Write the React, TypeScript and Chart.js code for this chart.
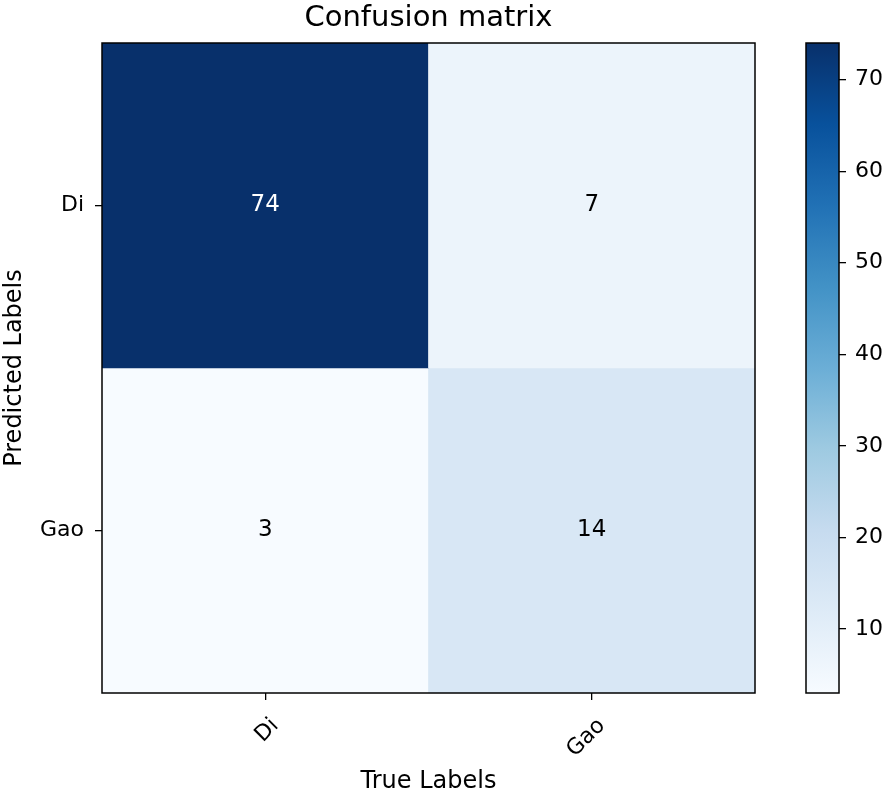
import React, { useEffect, useRef } from "react";
import { Chart, registerables } from "chart.js";

Chart.register(...registerables);

// ---- data ----
const TRUE_LABELS = ["Di", "Gao"];
const PRED_LABELS = ["Di", "Gao"];
const ROW_DI = [74, 7];
const ROW_GAO = [3, 14];
const ROWS = [ROW_DI, ROW_GAO];
const CB_TICKS = [10, 20, 30, 40, 50, 60, 70];
const TITLE = "Confusion matrix";
const X_TITLE = "True Labels";
const Y_TITLE = "Predicted Labels";

const ALL = ROWS.flat();
const VMIN = Math.min(...ALL);
const VMAX = Math.max(...ALL);

// matplotlib "Blues" colormap anchors
const BLUES = [
  "#f7fbff", "#deebf7", "#c6dbef", "#9ecae1", "#6baed6",
  "#4292c6", "#2171b5", "#08519c", "#08306b",
];

function hexToRgb(h: string) {
  return [parseInt(h.slice(1, 3), 16), parseInt(h.slice(3, 5), 16), parseInt(h.slice(5, 7), 16)];
}
function blues(t: number) {
  const tt = Math.max(0, Math.min(1, t));
  const n = BLUES.length - 1;
  const i = Math.min(n - 1, Math.floor(tt * n));
  const f = tt * n - i;
  const a = hexToRgb(BLUES[i]);
  const b = hexToRgb(BLUES[i + 1]);
  const c = a.map((v, k) => Math.round(v + (b[k] - v) * f));
  return `rgb(${c[0]},${c[1]},${c[2]})`;
}
const norm = (v: number) => (v - VMIN) / (VMAX - VMIN);

const FONT = "DejaVu Sans";

const framePlugin = {
  id: "frame",
  afterDraw(chart: any) {
    const { ctx, chartArea: a } = chart;
    ctx.save();
    ctx.strokeStyle = "#000";
    ctx.lineWidth = 1.5;
    ctx.strokeRect(a.left, a.top, a.right - a.left, a.bottom - a.top);
    ctx.restore();
  },
};

const cellTextPlugin = {
  id: "cellText",
  afterDatasetsDraw(chart: any) {
    const { ctx } = chart;
    const thresh = VMAX / 2;
    ctx.save();
    ctx.font = `23px "${FONT}"`;
    ctx.textAlign = "center";
    ctx.textBaseline = "middle";
    chart.data.datasets.forEach((ds: any, r: number) => {
      const meta = chart.getDatasetMeta(r);
      meta.data.forEach((el: any, c: number) => {
        const v = ROWS[r][c];
        const p = el.getCenterPoint();
        ctx.fillStyle = v > thresh ? "#ffffff" : "#000000";
        ctx.fillText(String(v), p.x, p.y);
      });
    });
    ctx.restore();
  },
};

export default function App() {
  const mainRef = useRef<HTMLCanvasElement>(null);
  const cbRef = useRef<HTMLCanvasElement>(null);

  useEffect(() => {
    Chart.defaults.font.family = FONT;
    Chart.defaults.color = "#000";

    const main = new Chart(mainRef.current!, {
      type: "bar",
      data: {
        labels: TRUE_LABELS,
        datasets: ROWS.map((row, r) => ({
          label: PRED_LABELS[r],
          data: TRUE_LABELS.map((lab, c) => ({ x: lab, y: [r, r + 1] })) as any,
          backgroundColor: row.map((v) => blues(norm(v))),
          borderWidth: 0,
          grouped: false,
          barPercentage: 1,
          categoryPercentage: 1,
        })),
      },
      options: {
        responsive: false,
        animation: false,
        events: [],
        layout: { padding: { top: 0, left: 0, right: 131, bottom: 0 } },
        plugins: {
          legend: { display: false },
          tooltip: { enabled: false },
          title: {
            display: true,
            text: TITLE,
            fullSize: false,
            color: "#000",
            font: { size: 29, weight: "normal", family: FONT },
            padding: { top: 1, bottom: 7.2 },
          },
        },
        scales: {
          x: {
            type: "category",
            offset: true,
            afterFit: (s: any) => { s.height = 103; },
            grid: { offset: false, drawOnChartArea: false, drawTicks: true, tickLength: 7, color: "#000", lineWidth: 1.3 },
            border: { display: false },
            ticks: {
              maxRotation: 45,
              minRotation: 45,
              padding: 13,
              labelOffset: 10,
              color: "#000",
              font: { size: 22, family: FONT },
            },
            title: {
              display: true,
              text: X_TITLE,
              color: "#000",
              font: { size: 24, family: FONT },
              padding: { top: 0, bottom: 0 },
            },
          },
          y: {
            type: "linear",
            min: 0,
            max: PRED_LABELS.length,
            reverse: true,
            afterFit: (s: any) => { s.width = 102; },
            afterBuildTicks: (s: any) => {
              s.ticks = PRED_LABELS.map((_, i) => ({ value: i + 0.5 }));
            },
            grid: { drawOnChartArea: false, drawTicks: true, tickLength: 7, color: "#000", lineWidth: 1.3 },
            border: { display: false },
            ticks: {
              padding: 11,
              color: "#000",
              font: { size: 22, family: FONT },
              callback: (_v: any, i: number) => PRED_LABELS[i],
            },
            title: {
              display: true,
              text: Y_TITLE,
              color: "#000",
              font: { size: 24, family: FONT },
              padding: { top: 0, bottom: 0 },
            },
          },
        },
      },
      plugins: [cellTextPlugin, framePlugin],
    } as any);

    const cb = new Chart(cbRef.current!, {
      type: "bar",
      data: {
        labels: [""],
        datasets: [
          {
            data: [[VMIN, VMAX]] as any,
            borderWidth: 0,
            barPercentage: 1,
            categoryPercentage: 1,
            backgroundColor: (ctx: any) => {
              const chart = ctx.chart;
              const y = chart.scales?.y;
              if (!chart.chartArea || !y) return BLUES[0];
              const g = chart.ctx.createLinearGradient(
                0, y.getPixelForValue(VMIN), 0, y.getPixelForValue(VMAX)
              );
              BLUES.forEach((c, i) => g.addColorStop(i / (BLUES.length - 1), c));
              return g;
            },
          },
        ],
      },
      options: {
        responsive: false,
        animation: false,
        events: [],
        layout: { padding: { top: 43, left: 106, right: 0, bottom: 103 } },
        plugins: { legend: { display: false }, tooltip: { enabled: false }, title: { display: false } },
        scales: {
          x: { display: false, offset: true },
          y: {
            type: "linear",
            position: "right",
            min: VMIN,
            max: VMAX,
            afterFit: (s: any) => { s.width = 47; },
            afterBuildTicks: (s: any) => {
              s.ticks = CB_TICKS.map((v) => ({ value: v }));
            },
            grid: { drawOnChartArea: false, drawTicks: true, tickLength: 7, color: "#000", lineWidth: 1.3 },
            border: { display: false },
            ticks: {
              padding: 9,
              color: "#000",
              font: { size: 22, family: FONT },
              callback: (v: any) => String(v),
            },
          },
        },
      },
      plugins: [framePlugin],
    } as any);

    return () => {
      main.destroy();
      cb.destroy();
    };
  }, []);

  return (
    <div style={{ position: "absolute", left: 0, top: 0, width: 886, height: 796, background: "#fff" }}>
      <canvas
        ref={mainRef}
        width={886}
        height={796}
        style={{ position: "absolute", left: 0, top: 0, width: 886, height: 796, display: "block" }}
      />
      <canvas
        ref={cbRef}
        width={186}
        height={796}
        style={{ position: "absolute", left: 700, top: 0, width: 186, height: 796, display: "block" }}
      />
    </div>
  );
}
